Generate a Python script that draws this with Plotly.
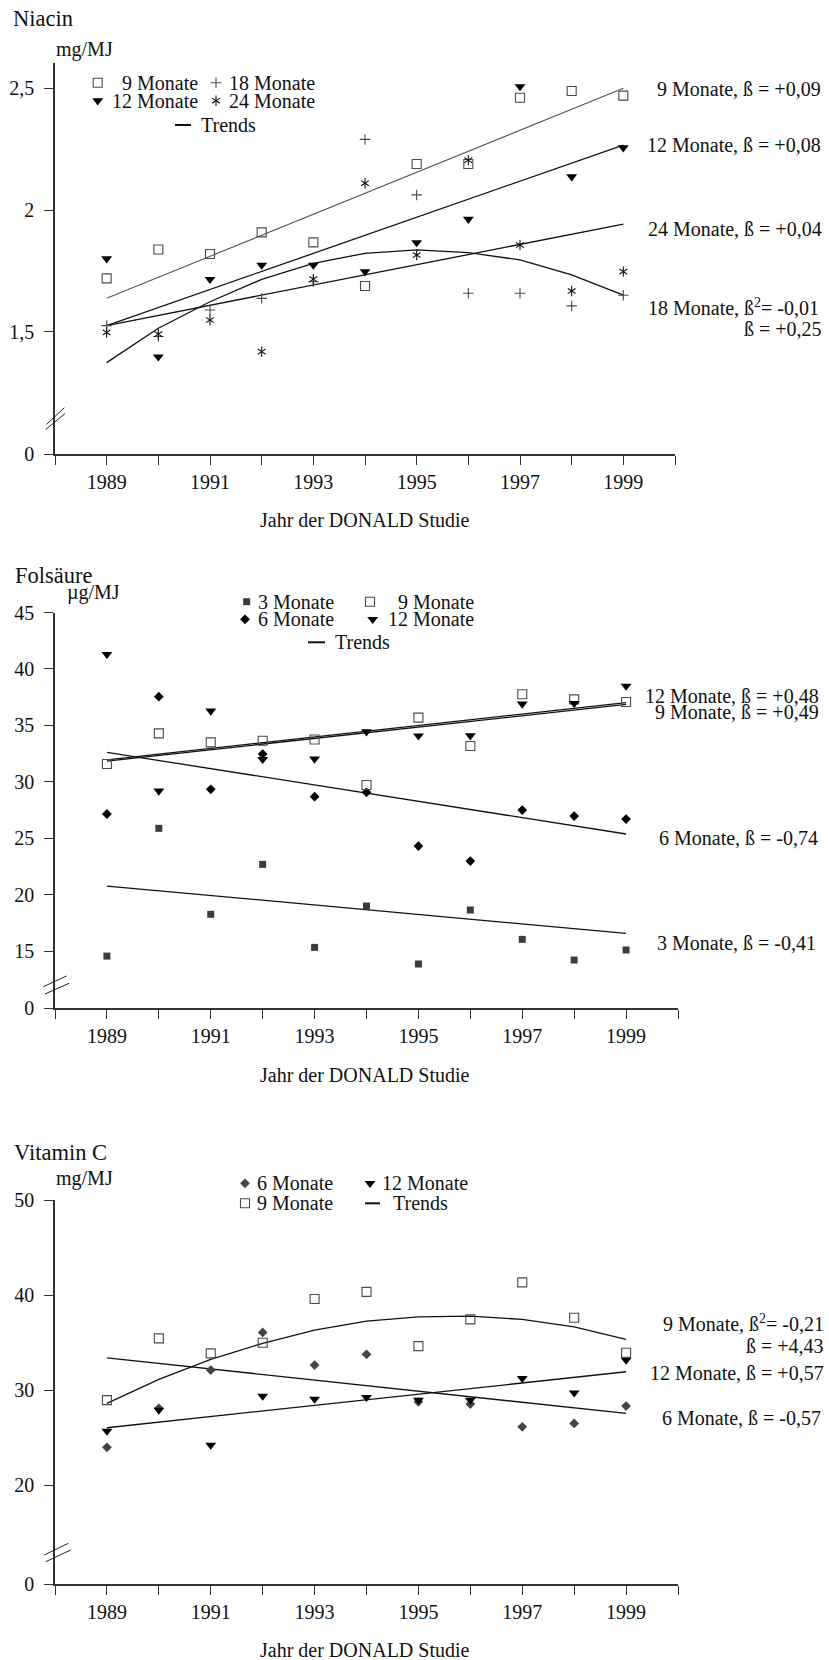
import plotly.graph_objects as go

W, H = 829, 1660
FONT = "Liberation Serif, Times New Roman, serif"
INK = "#111111"
AXIS = "#333333"
GREY = "#4a4a4a"

years = list(range(1989, 2000))
trend_years = [1989, 1999]
label_years = list(range(1989, 2000, 2))
label_text = [str(y) for y in label_years]

# ---------------- Niacin (mg/MJ) ----------------
niacin_9m = [1.719, 1.838, 1.819, 1.908, 1.867, 1.688, 2.189, 2.189, 2.461, 2.489, 2.470]
niacin_12m = [1.800, 1.397, 1.715, 1.774, 1.774, 1.747, 1.866, 1.962, 2.507, 2.137, 2.256]
niacin_18m = [1.525, 1.480, 1.589, 1.637, 1.705, 2.290, 2.062, 1.658, 1.658, 1.606, 1.650]
niacin_24m = [1.497, 1.490, 1.548, 1.418, 1.716, 2.110, 1.815, 2.205, 1.856, 1.667, 1.747]
niacin_trend_9m = [1.637, 2.500]
niacin_trend_12m = [1.525, 2.267]
niacin_trend_24m = [1.525, 1.942]
niacin_trend_18m = [1.373, 1.514, 1.623, 1.715, 1.781, 1.822, 1.836, 1.825, 1.795, 1.733, 1.650]
niacin_ticks = [1.5, 2.0, 2.5]
niacin_ticktext = ["1,5", "2", "2,5"]

# ---------------- Folsäure (µg/MJ) ----------------
fol_3m = [14.58, 25.89, 18.28, 22.70, 15.35, 19.01, 13.88, 18.66, 16.06, 14.23, 15.12]
fol_6m = [27.16, 37.55, 29.35, 32.47, 28.69, 29.08, 24.32, 22.99, 27.51, 26.98, 26.71]
fol_9m = [31.59, 34.30, 33.50, 33.65, 33.75, 29.73, 35.69, 33.18, 37.76, 37.31, 37.07]
fol_12m = [41.30, 29.20, 36.28, 32.00, 32.03, 34.45, 34.08, 34.09, 36.90, 36.96, 38.49]
fol_trend_12m = [31.95, 37.02]
fol_trend_9m = [31.85, 36.86]
fol_trend_6m = [32.62, 25.39]
fol_trend_3m = [20.78, 16.59]
fol_ticks = [15, 20, 25, 30, 35, 40, 45]

# ---------------- Vitamin C (mg/MJ) ----------------
vitc_6m = [23.98, 28.08, 32.11, 36.07, 32.63, 33.76, 28.77, 28.53, 26.14, 26.50, 28.32]
vitc_9m = [28.95, 35.44, 33.86, 34.98, 39.58, 40.34, 34.63, 37.44, 41.33, 37.61, 33.93]
vitc_12m = [25.69, 27.90, 24.22, 29.37, 29.06, 29.24, 28.95, 28.95, 31.23, 29.72, 33.16]
vitc_trend_9m = [28.61, 31.13, 33.23, 34.92, 36.31, 37.26, 37.71, 37.79, 37.44, 36.66, 35.34]
vitc_trend_12m = [26.04, 31.93]
vitc_trend_6m = [33.40, 27.55]
vitc_ticks = [20, 30, 40, 50]

# ---------------- marker styles ----------------
MK = {
    "sq_open": dict(symbol="square-open", size=9, color=GREY, line=dict(width=1.1, color=GREY)),
    "tri": dict(symbol="triangle-down", size=9.5, color="#000000", line=dict(width=0)),
    "plus": dict(symbol="cross-thin-open", size=7.5, color=GREY, line=dict(width=1.1, color=GREY)),
    # six-armed asterisk = upward Y + downward Y drawn on top of each other
    "star_a": dict(symbol="y-up-open", size=6.5, color="#111111", line=dict(width=1.1, color="#111111")),
    "star_b": dict(symbol="y-down-open", size=6.5, color="#111111", line=dict(width=1.1, color="#111111")),
    "sq_fill": dict(symbol="square", size=7, color="#3c3c3c", line=dict(width=0)),
    "dia_black": dict(symbol="diamond", size=7.5, color="#000000", line=dict(width=0)),
    "dia_grey": dict(symbol="diamond", size=7.5, color="#444444", line=dict(width=0)),
}
STYLE_PARTS = {"star": ["star_a", "star_b"]}


def pxx(px):
    return px / W


def pxy(px):
    return 1 - px / H


fig = go.Figure()
layout_axes = {}

# panel geometry in pixel rows/cols: x span, main-axis span, lower (broken) span
panels = [
    dict(x0=55, x1=675, top=63, brk=418, bottom=454, rng=[1.1454, 2.604],
         low=[0, 0.148], ticks=niacin_ticks, ticktext=niacin_ticktext),
    dict(x0=55, x1=678, top=612.5, brk=985, bottom=1008, rng=[12.02, 45],
         low=[0, 2.04], ticks=fol_ticks, ticktext=[str(v) for v in fol_ticks]),
    dict(x0=55, x1=678, top=1200, brk=1552, bottom=1584.3, rng=[12.97, 50],
         low=[0, 3.4], ticks=vitc_ticks, ticktext=[str(v) for v in vitc_ticks]),
]

common = dict(
    showgrid=False, zeroline=False, showline=True, linecolor=AXIS, linewidth=1.5,
    ticks="outside", ticklen=9, tickwidth=1.2, tickcolor=AXIS,
    tickfont=dict(family=FONT, size=20, color=INK), automargin=False, fixedrange=True,
)

refs = []
for i, p in enumerate(panels):
    xn = "xaxis" if i == 0 else f"xaxis{i + 1}"
    xr = "x" if i == 0 else f"x{i + 1}"
    ymain_n = "yaxis" if i == 0 else f"yaxis{2 * i + 1}"
    ymain_r = "y" if i == 0 else f"y{2 * i + 1}"
    ylow_n = f"yaxis{2 * i + 2}"
    ylow_r = f"y{2 * i + 2}"
    layout_axes[xn] = dict(common, domain=[pxx(p["x0"]), pxx(p["x1"])], range=[1988, 2000],
                           tickmode="array", tickvals=label_years, ticktext=label_text,
                           minor=dict(tickmode="linear", tick0=1988, dtick=1, ticks="outside",
                                      ticklen=9, tickwidth=1.2, tickcolor=AXIS, showgrid=False),
                           anchor=ylow_r, ticklabelstandoff=0)
    layout_axes[ymain_n] = dict(common, domain=[pxy(p["brk"]), pxy(p["top"])], range=p["rng"],
                                tickmode="array", tickvals=p["ticks"], ticktext=p["ticktext"],
                                anchor=xr, ticklabelstandoff=6)
    layout_axes[ylow_n] = dict(common, domain=[pxy(p["bottom"]), pxy(p["brk"])], range=p["low"],
                               tickmode="array", tickvals=[0], ticktext=["0"],
                               anchor=xr, ticklabelstandoff=6)
    refs.append((xr, ymain_r, ylow_r))
    # keep the lower axis segment registered as a subplot
    fig.add_trace(go.Scatter(x=[], y=[], xaxis=xr, yaxis=ylow_r, showlegend=False))


def line(xs, ys, ref, color="#111111", width=1.3):
    fig.add_trace(go.Scatter(x=xs, y=ys, mode="lines", xaxis=ref[0], yaxis=ref[1],
                             line=dict(color=color, width=width), showlegend=False,
                             hoverinfo="skip"))


def points(ys, style, ref, name):
    for part in STYLE_PARTS.get(style, [style]):
        fig.add_trace(go.Scatter(x=years, y=ys, mode="markers", xaxis=ref[0], yaxis=ref[1],
                                 marker=MK[part], name=name, showlegend=False))


# Niacin
r = refs[0]
line(trend_years, niacin_trend_9m, r, color="#555555", width=1.1)
line(trend_years, niacin_trend_12m, r)
line(trend_years, niacin_trend_24m, r)
line(years, niacin_trend_18m, r)
points(niacin_9m, "sq_open", r, "9 Monate")
points(niacin_18m, "plus", r, "18 Monate")
points(niacin_24m, "star", r, "24 Monate")
points(niacin_12m, "tri", r, "12 Monate")

# Folsäure
r = refs[1]
line(trend_years, fol_trend_12m, r)
line(trend_years, fol_trend_9m, r)
line(trend_years, fol_trend_6m, r)
line(trend_years, fol_trend_3m, r)
points(fol_3m, "sq_fill", r, "3 Monate")
points(fol_6m, "dia_black", r, "6 Monate")
points(fol_9m, "sq_open", r, "9 Monate")
points(fol_12m, "tri", r, "12 Monate")

# Vitamin C
r = refs[2]
line(years, vitc_trend_9m, r)
line(trend_years, vitc_trend_12m, r)
line(trend_years, vitc_trend_6m, r)
points(vitc_6m, "dia_grey", r, "6 Monate")
points(vitc_9m, "sq_open", r, "9 Monate")
points(vitc_12m, "tri", r, "12 Monate")

# ---------------- overlay in pixel units for keys, labels, break marks ----------------
layout_axes["xaxis4"] = dict(domain=[0, 1], range=[0, W], visible=False, anchor="y7", fixedrange=True)
layout_axes["yaxis7"] = dict(domain=[0, 1], range=[H, 0], visible=False, anchor="x4", fixedrange=True)

legend_keys = [
    # (x, y, style)
    (97.7, 82.7, "sq_open"), (216, 82.7, "plus"), (97.7, 100.7, "tri"), (216, 100.7, "star"),
    (246.7, 601.7, "sq_fill"), (370, 601.7, "sq_open"), (245, 619.3, "dia_black"), (372.7, 619.3, "tri"),
    (245, 1183.3, "dia_grey"), (370, 1183.3, "tri"), (245, 1203.3, "sq_open"),
]
for kx, ky, st in legend_keys:
    for part in STYLE_PARTS.get(st, [st]):
        fig.add_trace(go.Scatter(x=[kx], y=[ky], mode="markers", xaxis="x4", yaxis="y7",
                                 marker=MK[part], showlegend=False, hoverinfo="skip"))

annotations = []


def text(x, y, s, size=20, anchor="left"):
    annotations.append(dict(x=x, y=y, xref="x4", yref="y7", text=s, showarrow=False,
                            xanchor=anchor, yanchor="middle",
                            font=dict(family=FONT, size=size, color=INK)))


# titles and units
text(10.5, 18.3, "Niacin", 22.5)
text(53.5, 49, "mg/MJ")
text(13, 575, "Folsäure", 22.5)
text(65, 592.7, "µg/MJ")
text(12, 1152.7, "Vitamin C", 22.5)
text(53.5, 1178.3, "mg/MJ")

# x titles
for yy in (520, 1075, 1650):
    text(365, yy, "Jahr der DONALD Studie", 20, "center")

# legend texts
text(200, 82.7, "9 Monate", anchor="right")
text(200, 100.7, "12 Monate", anchor="right")
text(227, 82.7, "18 Monate")
text(227, 100.7, "24 Monate")
text(199, 125, "Trends")

text(256, 601.7, "3 Monate")
text(256, 619.3, "6 Monate")
text(476, 601.7, "9 Monate", anchor="right")
text(476, 619.3, "12 Monate", anchor="right")
text(333, 642.3, "Trends")

text(254.5, 1183.3, "6 Monate")
text(254.5, 1203.3, "9 Monate")
text(379.5, 1183.3, "12 Monate")
text(391, 1203.3, "Trends")

# trend labels
text(823, 89.3, "9 Monate, ß = +0,09", anchor="right")
text(823, 145, "12 Monate, ß = +0,08", anchor="right")
text(824, 229.3, "24 Monate, ß = +0,04", anchor="right")
text(821, 307.3, "18 Monate, ß<sup>2</sup>= -0,01", anchor="right")
text(824, 329.3, "ß = +0,25", anchor="right")

text(821, 696, "12 Monate, ß = +0,48", anchor="right")
text(821, 711.7, "9 Monate, ß = +0,49", anchor="right")
text(820, 838, "6 Monate, ß = -0,74", anchor="right")
text(817.5, 943.3, "3 Monate, ß = -0,41", anchor="right")

text(826, 1323.3, "9 Monate, ß<sup>2</sup>= -0,21", anchor="right")
text(826, 1345.7, "ß = +4,43", anchor="right")
text(826, 1372.7, "12 Monate, ß = +0,57", anchor="right")
text(823, 1418.3, "6 Monate, ß = -0,57", anchor="right")

shapes = []
# legend line keys
for (x0, x1, y) in [(175, 191, 125), (308, 325, 642.3), (365, 380, 1203.3)]:
    shapes.append(dict(type="line", xref="x4", yref="y7", x0=x0, x1=x1, y0=y, y1=y,
                       line=dict(color="#111111", width=2)))
# axis break marks
breaks = [
    [(46.7, 424.3, 64.3, 407.7), (45.7, 429.5, 65, 413.5)],
    [(43.3, 986.7, 66.7, 976), (45, 994, 69, 983.3)],
    [(44.3, 1555, 68.3, 1543.3), (45.7, 1561.7, 70.7, 1550)],
]
for pair in breaks:
    for (x0, y0, x1, y1) in pair:
        shapes.append(dict(type="line", xref="x4", yref="y7", x0=x0, y0=y0, x1=x1, y1=y1,
                           line=dict(color="#222222", width=1)))

fig.update_layout(
    width=W, height=H, margin=dict(l=0, r=0, t=0, b=0),
    paper_bgcolor="white", plot_bgcolor="rgba(0,0,0,0)",
    showlegend=False, annotations=annotations, shapes=shapes,
    font=dict(family=FONT, size=20, color=INK),
    **layout_axes,
)

fig.write_html("out.html")
